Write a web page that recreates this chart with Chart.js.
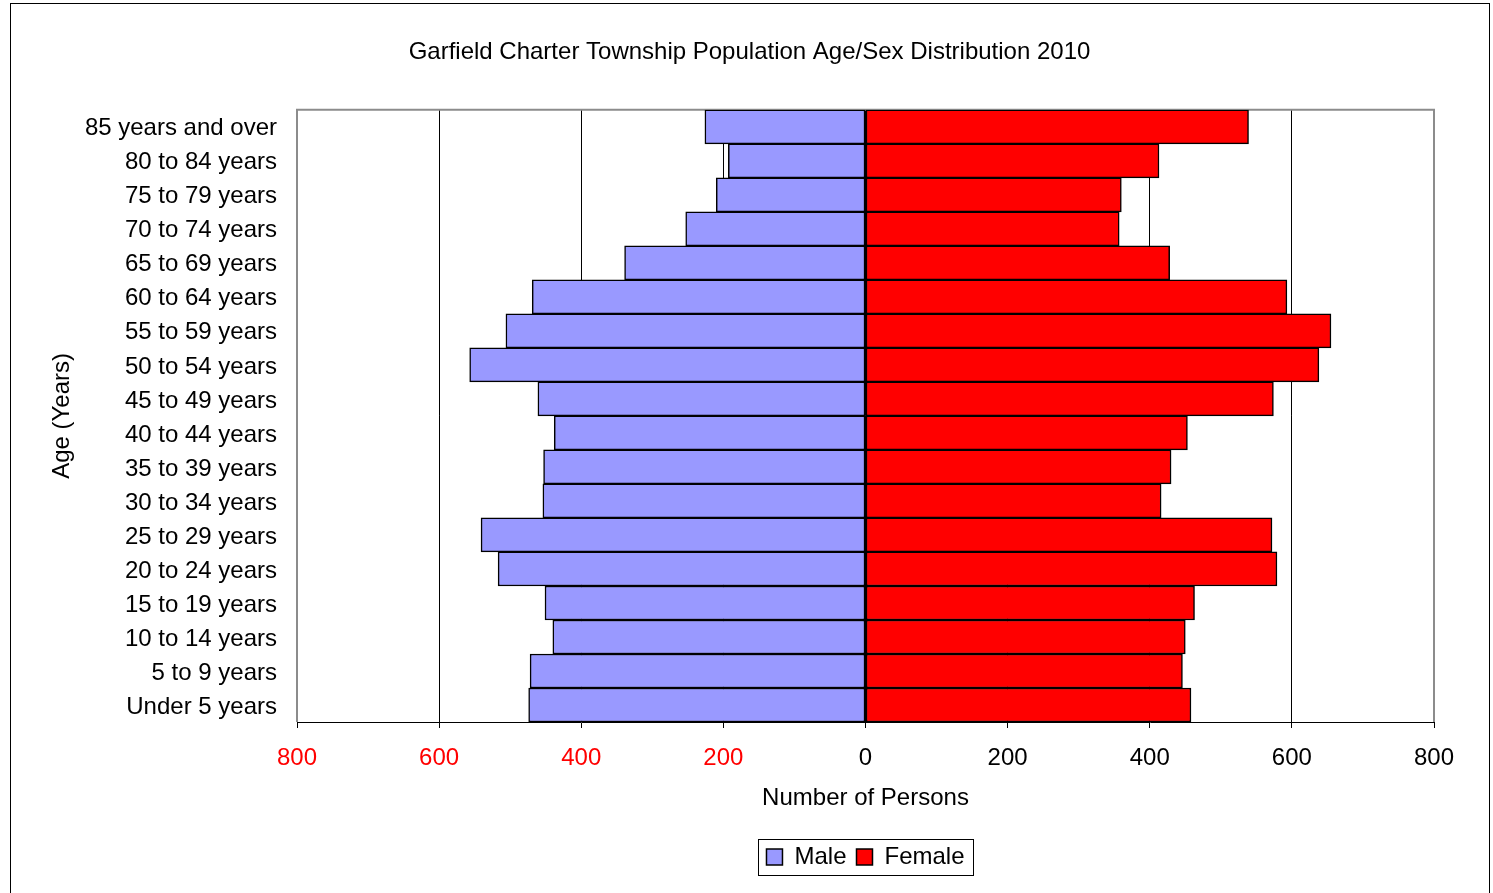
<!DOCTYPE html>
<html>
<head>
<meta charset="utf-8">
<title>Garfield Charter Township Population Age/Sex Distribution 2010</title>
<script src="https://cdn.jsdelivr.net/npm/chart.js@4"></script>
<style>
  html, body { margin: 0; padding: 0; background: #fff; overflow: hidden; }
  #wrap { position: absolute; left: 0; top: 0; width: 1493px; height: 893px; }
  #frame { position: absolute; left: 10px; top: 3px; width: 1478px; height: 1000px; border: 1px solid #000; pointer-events: none; }
  canvas { position: absolute; left: 0; top: 0; }
</style>
</head>
<body>
<div id="wrap">
  <div id="frame"></div>
  <canvas id="pyramid" width="1493" height="893"></canvas>
</div>
<script>
// age groups, bottom to top
const ageGroups = [
  'Under 5 years', '5 to 9 years', '10 to 14 years', '15 to 19 years',
  '20 to 24 years', '25 to 29 years', '30 to 34 years', '35 to 39 years',
  '40 to 44 years', '45 to 49 years', '50 to 54 years', '55 to 59 years',
  '60 to 64 years', '65 to 69 years', '70 to 74 years', '75 to 79 years',
  '80 to 84 years', '85 years and over'
];
const male = [474, 472, 440, 451, 517, 541, 454, 453, 438, 461, 557, 506, 469, 339, 253, 210, 193, 226];
const female = [458, 446, 450, 463, 579, 572, 416, 430, 453, 574, 638, 655, 593, 428, 357, 360, 413, 539];
const xTicks = [-800, -600, -400, -200, 0, 200, 400, 600, 800];

const FONT = '"Liberation Sans", Arial, sans-serif';
Chart.defaults.font.family = FONT;
Chart.defaults.color = '#000';

// grey plot border on top, left and right (bottom is the black axis)
const plotFrame = {
  id: 'plotFrame',
  beforeDatasetsDraw(chart) {
    const { ctx, chartArea: a } = chart;
    ctx.save();
    ctx.strokeStyle = '#8c8c8c';
    ctx.lineWidth = 2;
    ctx.beginPath();
    ctx.moveTo(a.left, a.bottom);
    ctx.lineTo(a.left, a.top);
    ctx.lineTo(a.right, a.top);
    ctx.lineTo(a.right, a.bottom);
    ctx.stroke();
    ctx.restore();
  }
};

// box round the legend like the spreadsheet one
const legendFrame = {
  id: 'legendFrame',
  afterDraw(chart) {
    const boxes = chart.legend && chart.legend.legendHitBoxes;
    if (!boxes || !boxes.length) return;
    const first = boxes[0];
    const last = boxes[boxes.length - 1];
    const x0 = first.left - 8;
    const x1 = last.left + last.width + 9;
    const y0 = first.top - 6;
    const y1 = first.top + first.height + 6;
    const ctx = chart.ctx;
    ctx.save();
    ctx.strokeStyle = '#000';
    ctx.lineWidth = 1;
    ctx.strokeRect(Math.round(x0) + 0.5, Math.round(y0) + 0.5, Math.round(x1 - x0), Math.round(y1 - y0));
    ctx.restore();
  }
};

new Chart(document.getElementById('pyramid'), {
  type: 'bar',
  data: {
    labels: ageGroups,
    datasets: [{
      label: 'Male',
      data: male.map(v => -v),
      backgroundColor: '#9999FF',
      borderColor: '#000',
      borderWidth: 1.5,
      borderSkipped: false,
      barPercentage: 1,
      categoryPercentage: 1
    }, {
      label: 'Female',
      data: female,
      backgroundColor: '#FF0000',
      borderColor: '#000',
      borderWidth: 1.5,
      borderSkipped: false,
      barPercentage: 1,
      categoryPercentage: 1
    }]
  },
  options: {
    indexAxis: 'y',
    responsive: false,
    animation: false,
    devicePixelRatio: 1,
    layout: { padding: { left: 65, right: 59, top: 0, bottom: 14 } },
    scales: {
      x: {
        stacked: true,
        min: -800,
        max: 800,
        afterBuildTicks: s => { s.ticks = xTicks.map(v => ({ value: v })); },
        afterFit: s => { s.height = 113; },
        ticks: {
          padding: 16,
          font: { size: 24 },
          color: c => (c.tick && c.tick.value < 0 ? '#FF0000' : '#000'),
          callback: v => Math.abs(v)
        },
        grid: {
          color: c => (Math.abs(c.tick ? c.tick.value : 0) === 800 ? '#8c8c8c' : '#000'),
          tickColor: '#000',
          lineWidth: 1,
          tickLength: 6
        },
        border: { display: true, color: '#000', width: 1 },
        title: {
          display: true,
          text: 'Number of Persons',
          font: { size: 24 },
          padding: { top: 0, bottom: 22 }
        }
      },
      y: {
        stacked: true,
        reverse: true,
        afterFit: s => { s.width = 232; },
        ticks: { autoSkip: false, padding: 20, labelOffset: 2, font: { size: 24 } },
        grid: { display: false, drawTicks: false },
        border: { display: false },
        title: {
          display: true,
          text: 'Age (Years)',
          font: { size: 24 },
          padding: { top: -17, bottom: 0 }
        }
      }
    },
    plugins: {
      title: {
        display: true,
        text: 'Garfield Charter Township Population Age/Sex Distribution 2010',
        font: { size: 24, weight: 'normal' },
        color: '#000',
        padding: { top: 38, bottom: 43 }
      },
      legend: {
        position: 'bottom',
        fullSize: false,
        labels: {
          boxWidth: 16,
          boxHeight: 16,
          padding: 10,
          font: { size: 24 },
          color: '#000'
        }
      },
      tooltip: { enabled: false }
    }
  },
  plugins: [plotFrame, legendFrame]
});
</script>
</body>
</html>
